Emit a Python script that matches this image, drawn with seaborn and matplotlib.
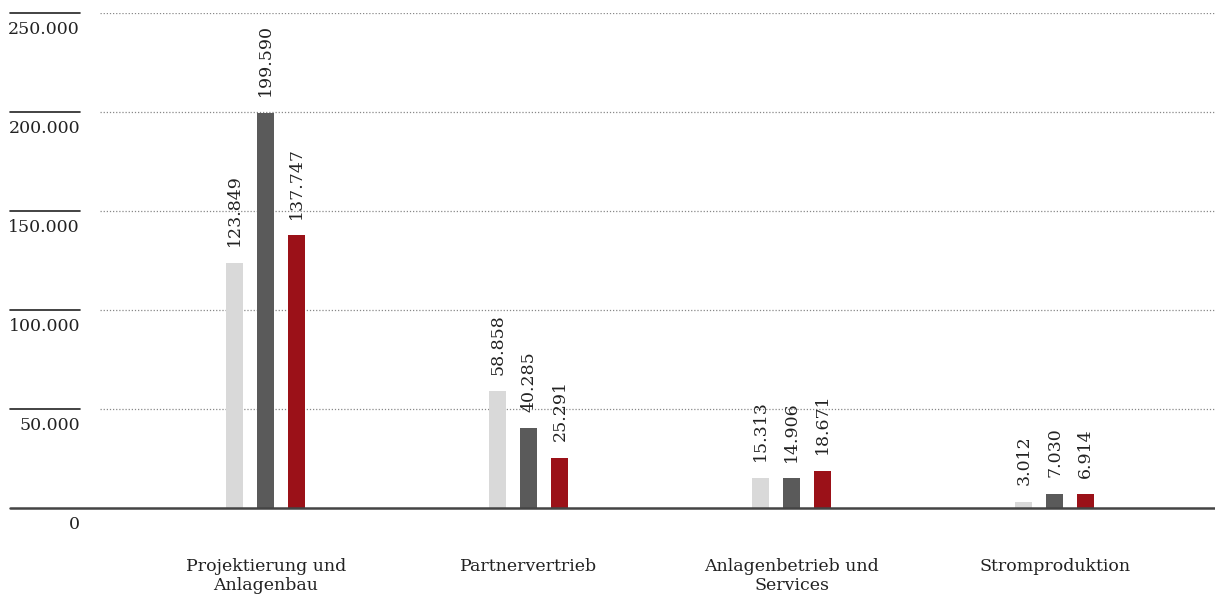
import matplotlib
matplotlib.use("Agg")
import matplotlib.pyplot as plt
import matplotlib.transforms as mtransforms
import seaborn as sns
import pandas as pd

categories = ["Projektierung und\nAnlagenbau", "Partnervertrieb",
              "Anlagenbetrieb und\nServices", "Stromproduktion"]
series = ["Serie 1", "Serie 2", "Serie 3"]
values_1 = [123849, 58858, 15313, 3012]
values_2 = [199590, 40285, 14906, 7030]
values_3 = [137747, 25291, 18671, 6914]
yticks = [0, 50000, 100000, 150000, 200000, 250000]
colors = ["#d9d9d9", "#5a5a5a", "#9b1118"]

rows = []
for s, vals in zip(series, [values_1, values_2, values_3]):
    for c, v in zip(categories, vals):
        rows.append({"Bereich": c, "Serie": s, "Wert": v})
df = pd.DataFrame(rows)

def fmt(v):
    return f"{v:,}".replace(",", ".")

sns.set_style("white")
plt.rcParams["font.family"] = ["DejaVu Serif"]
W, H = 1215, 597
fig = plt.figure(figsize=(W / 100, H / 100), dpi=100)
ax = fig.add_axes([10 / W, 1 - 508 / H, (W - 10) / W, (508 - 13) / H])

sns.barplot(data=df, x="Bereich", y="Wert", hue="Serie", order=categories,
            hue_order=series, palette=colors, width=0.354, gap=0.45,
            saturation=1, legend=False, linewidth=0, ax=ax, zorder=3)

ax.set_ylim(0, 250000)
ax.set_xlim(-0.973, 3.609)
for sp in ax.spines.values():
    sp.set_visible(False)
ax.set_xticks([])
ax.set_yticks([])
ax.set_xlabel("")
ax.set_ylabel("")

# baseline
ax.axhline(0, color="#444444", lw=1.8, zorder=4, clip_on=False)
# gridlines: short solid marker on the left, dotted line across the plot
x_solid_end = 70 / (W - 10)
x_dot_start = 90 / (W - 10)
for t in yticks[1:]:
    ax.axhline(t, xmin=0, xmax=x_solid_end, color="#222222", lw=1.2, clip_on=False)
    ax.axhline(t, xmin=x_dot_start, xmax=1, color="#888888", lw=0.9,
               linestyle=(0, (1, 1.5)), zorder=1)

trans = mtransforms.blended_transform_factory(ax.transAxes, ax.transData)
offset = mtransforms.ScaledTranslation(0, -6 / 72, fig.dpi_scale_trans)
for t in yticks:
    ax.text(x_solid_end, t, fmt(t), ha="right", va="top", fontsize=12.5,
            color="#222222", transform=trans + offset)

# value labels above bars
for cont in ax.containers:
    for bar in cont:
        h = bar.get_height()
        ax.annotate(fmt(int(round(h))), (bar.get_x() + bar.get_width() / 2, h),
                    xytext=(0, 12), textcoords="offset points", rotation=90,
                    ha="center", va="bottom", fontsize=12.5, color="#222222")

# category labels
for i, c in enumerate(categories):
    ax.text(i, 0, c, ha="center", va="top", fontsize=12.5, color="#222222",
            linespacing=1.15,
            transform=ax.transData + mtransforms.ScaledTranslation(0, -36 / 72, fig.dpi_scale_trans))

fig.savefig("out.png", dpi=100)
